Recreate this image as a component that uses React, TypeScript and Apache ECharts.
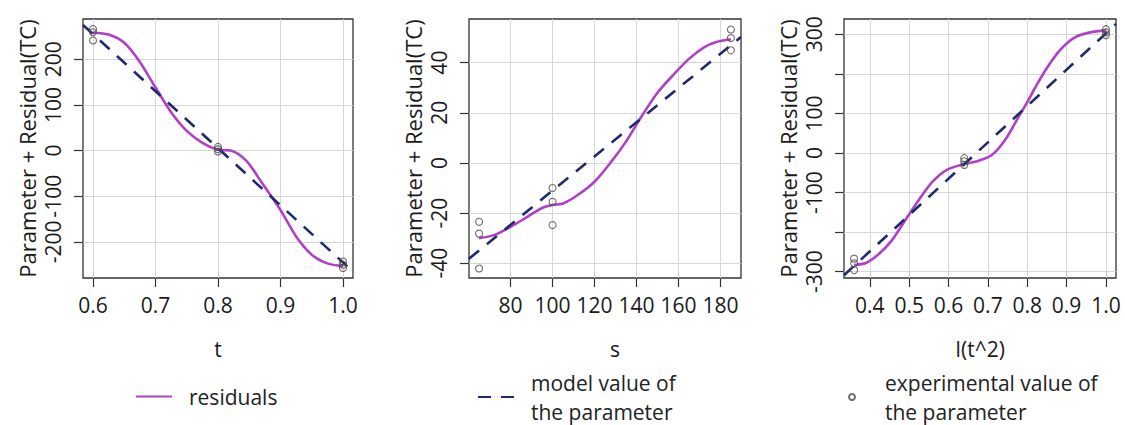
import React, { useEffect, useRef } from "react";
import * as echarts from "echarts";

// ---------- Panel 1: t ----------
const tTicks = [0.6, 0.7, 0.8, 0.9, 1.0];
const tYTicks = [-200, -100, 0, 100, 200];
const tExpX = [0.6, 0.6, 0.6, 0.8, 0.8, 0.8, 1.0, 1.0, 1.0];
const tExpY = [266, 259, 241, 8, 3, -2, -243, -250, -257];
const tResidX = [0.6, 0.625, 0.65, 0.675, 0.7, 0.725, 0.75, 0.775, 0.8, 0.82, 0.845, 0.87, 0.9, 0.925, 0.95, 0.975, 1.0];
const tResidY = [258, 254, 236, 194, 138, 84, 43, 17, 2, 0, -22, -70, -130, -188, -228, -247, -253];
const tModelX = [0.584, 1.016];
const tModelY = [275, -265];

// ---------- Panel 2: s ----------
const sTicks = [80, 100, 120, 140, 160, 180];
const sYTicks = [-40, -20, 0, 20, 40];
const sExpX = [65, 65, 65, 100, 100, 100, 185, 185, 185];
const sExpY = [-23.5, -28.2, -42.1, -10, -15.5, -24.8, 53.2, 49.8, 44.9];
const sResidX = [65, 72, 80, 88, 95, 100, 105, 112, 120, 128, 135, 142, 150, 158, 165, 172, 178, 185];
const sResidY = [-30, -28.8, -25.5, -21.5, -18, -16.8, -16.2, -12.8, -7.5, 0.5, 8.5, 18, 28, 35.5, 41.5, 46, 48.2, 49.3];
const sModelX = [60.2, 189.8];
const sModelY = [-38.2, 50.2];

// ---------- Panel 3: I(t^2) ----------
const t2Ticks = [0.4, 0.5, 0.6, 0.7, 0.8, 0.9, 1.0];
const t2YTicks = [-300, -200, -100, 0, 100, 200, 300];
const t2YLabels = [-300, -100, 0, 100, 300];
const t2ExpX = [0.36, 0.36, 0.36, 0.64, 0.64, 0.64, 1.0, 1.0, 1.0];
const t2ExpY = [-267, -279, -296, -13, -21, -30, 313, 305, 298];
const t2ResidX = [0.36, 0.39, 0.42, 0.455, 0.49, 0.525, 0.56, 0.595, 0.64, 0.675, 0.71, 0.745, 0.78, 0.8, 0.82, 0.85, 0.885, 0.92, 0.96, 1.0];
const t2ResidY = [-283, -278, -258, -222, -170, -118, -72, -43, -28, -20, -5, 35, 95, 128, 165, 215, 262, 292, 305, 310];
const t2ModelX = [0.3344, 1.0256];
const t2ModelY = [-309, 326];

const RESID = "residuals";
const MODEL = "model value of\nthe parameter";
const EXPER = "experimental value of\nthe parameter";
const Y_TITLE = "Parameter + Residual(TC)";

const FONT = "'Open Sans', 'Noto Sans', sans-serif";
const PURPLE = "#b23fc8";
const NAVY = "#1f2a6e";
const POINT = "#4a4a4a";
const GRIDC = "#d6d6d6";
const TEXT = "#1a1a1a";

const pairs = (xs: number[], ys: number[]) => xs.map((x, i) => [x, ys[i]]);

export default function App() {
  const ref = useRef<HTMLDivElement>(null);

  useEffect(() => {
    const chart = echarts.init(ref.current!, null, { renderer: "svg" });

    const panels = [
      {
        grid: { left: 83, top: 19, width: 270, height: 259 },
        xMin: 0.584, xMax: 1.016, yMin: -279, yMax: 288,
        xTicks: tTicks, xLabels: tTicks, yTicks: tYTicks, yLabels: tYTicks,
        xName: "t", xPad: [0, 0, 0, 0], xFmt: (v: number) => v.toFixed(1),
        resid: pairs(tResidX, tResidY), model: pairs(tModelX, tModelY), exp: pairs(tExpX, tExpY),
      },
      {
        grid: { left: 469, top: 19, width: 272, height: 259 },
        xMin: 60.2, xMax: 189.8, yMin: -45.9, yMax: 57.4,
        xTicks: sTicks, xLabels: sTicks, yTicks: sYTicks, yLabels: sYTicks,
        xName: "s", xPad: [0, 0, 0, 20], xFmt: (v: number) => String(v),
        resid: pairs(sResidX, sResidY), model: pairs(sModelX, sModelY), exp: pairs(sExpX, sExpY),
      },
      {
        grid: { left: 844, top: 19, width: 272, height: 259 },
        xMin: 0.3344, xMax: 1.0256, yMin: -316, yMax: 338.8,
        xTicks: t2Ticks, xLabels: t2Ticks, yTicks: t2YTicks, yLabels: t2YLabels,
        xName: "I(t^2)", xPad: [0, 0, 0, 0], xFmt: (v: number) => v.toFixed(1),
        resid: pairs(t2ResidX, t2ResidY), model: pairs(t2ModelX, t2ModelY), exp: pairs(t2ExpX, t2ExpY),
      },
    ];

    const grids = panels.map((p) => ({
      ...p.grid,
      show: true,
      borderColor: "#333",
      borderWidth: 1.3,
      backgroundColor: "transparent",
      containLabel: false,
    }));

    const xAxes = panels.map((p, i) => ({
      type: "value",
      gridIndex: i,
      min: p.xMin,
      max: p.xMax,
      axisLine: { show: false, onZero: false },
      axisTick: { show: true, length: 9, customValues: p.xTicks, lineStyle: { color: "#333", width: 1.2 } },
      axisLabel: {
        customValues: p.xLabels,
        formatter: p.xFmt,
        fontSize: 21,
        fontFamily: FONT,
        color: TEXT,
        margin: 16,
        hideOverlap: false,
      },
      splitLine: { show: true, lineStyle: { color: GRIDC, width: 1 } },
      name: p.xName,
      nameLocation: "middle",
      nameGap: 60,
      nameTextStyle: { fontSize: 21, fontFamily: FONT, color: TEXT, padding: p.xPad },
    }));

    const yAxes = panels.map((p, i) => ({
      type: "value",
      gridIndex: i,
      min: p.yMin,
      max: p.yMax,
      axisLine: { show: false, onZero: false },
      axisTick: { show: true, length: 9, customValues: p.yTicks, lineStyle: { color: "#333", width: 1.2 } },
      axisLabel: {
        customValues: p.yLabels,
        rotate: 90,
        fontSize: 21,
        fontFamily: FONT,
        color: TEXT,
        margin: 20,
        hideOverlap: false,
      },
      splitLine: { show: true, lineStyle: { color: GRIDC, width: 1 } },
      name: Y_TITLE,
      nameLocation: "middle",
      nameGap: 45,
      nameTextStyle: { fontSize: 22, fontFamily: FONT, color: TEXT },
    }));

    const series: any[] = [];
    panels.forEach((p, i) => {
      series.push({
        name: RESID,
        type: "line",
        xAxisIndex: i,
        yAxisIndex: i,
        data: p.resid,
        smooth: 0.3,
        showSymbol: false,
        symbol: "none",
        lineStyle: { color: PURPLE, width: 2.6 },
        itemStyle: { color: PURPLE },
        z: 3,
      });
      series.push({
        name: MODEL,
        type: "line",
        xAxisIndex: i,
        yAxisIndex: i,
        data: p.model,
        showSymbol: false,
        symbol: "none",
        lineStyle: { color: NAVY, width: 2.6, type: [13, 10] },
        itemStyle: { color: NAVY },
        z: 4,
      });
      series.push({
        name: EXPER,
        type: "scatter",
        xAxisIndex: i,
        yAxisIndex: i,
        data: p.exp,
        symbol: "circle",
        symbolSize: 7,
        itemStyle: { color: "rgba(255,255,255,0)", borderColor: POINT, borderWidth: 1.1 },
        z: 5,
      });
    });

    const legendText = { fontSize: 21, fontFamily: FONT, color: "#222", lineHeight: 29 };
    const hiddenSymbol = { opacity: 0, color: "transparent", borderWidth: 0 };

    const option: any = {
      animation: false,
      backgroundColor: "#ffffff",
      grid: grids,
      xAxis: xAxes,
      yAxis: yAxes,
      legend: [
        {
          data: [RESID],
          left: 135,
          top: 382,
          padding: 0,
          itemWidth: 36,
          itemHeight: 10,
          selectedMode: false,
          itemStyle: hiddenSymbol,
          textStyle: { ...legendText, padding: [0, 0, 0, 12] },
        },
        {
          data: [MODEL],
          left: 477,
          top: 368,
          padding: 0,
          itemWidth: 36,
          itemHeight: 10,
          selectedMode: false,
          itemStyle: hiddenSymbol,
          textStyle: { ...legendText, padding: [0, 0, 0, 12] },
        },
        {
          data: [EXPER],
          left: 848,
          top: 368,
          padding: 0,
          itemWidth: 6,
          itemHeight: 6,
          selectedMode: false,
          textStyle: { ...legendText, padding: [0, 0, 0, 25] },
        },
      ],
      series,
    };

    chart.setOption(option);
    return () => chart.dispose();
  }, []);

  return (
    <div
      ref={ref}
      style={{ position: "absolute", left: 0, top: 0, width: 1125, height: 425, background: "#fff" }}
    />
  );
}
